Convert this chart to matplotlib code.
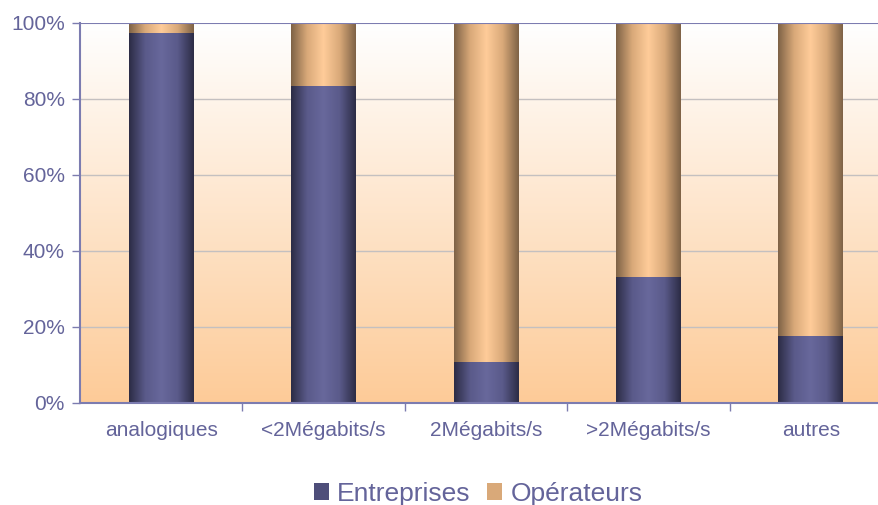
import numpy as np
import matplotlib
matplotlib.use("Agg")
import matplotlib.pyplot as plt
from matplotlib.colors import LinearSegmentedColormap
from matplotlib.patches import Rectangle

# data
categories = ['analogiques', '<2Mégabits/s', '2Mégabits/s', '>2Mégabits/s', 'autres']
entreprises = [97.4, 83.5, 10.8, 33.2, 17.6]
operateurs = [100 - v for v in entreprises]
yticks = [0, 20, 40, 60, 80, 100]

txt_color = '#64649A'
plt.rcParams['font.family'] = ['Liberation Sans', 'DejaVu Sans']

fig = plt.figure(figsize=(8.79, 5.05), dpi=100)
# axes extend past the right edge like the original
ax = fig.add_axes([80 / 879, 1 - 403 / 505, 812 / 879, 380 / 505])

n = len(categories)

# background gradient (white top -> peach bottom)
bg = LinearSegmentedColormap.from_list('bg', ['#FDCB98', '#FFFFFF'])
grad = np.linspace(0, 1, 256).reshape(-1, 1)
ax.imshow(grad, cmap=bg, extent=[-0.5, n - 0.5, 0, 100], aspect='auto',
          origin='lower', zorder=0)

# gridlines
for t in yticks[1:-1]:
    ax.axhline(t, color='#C4C0C0', lw=1, zorder=1)

blue_cm = LinearSegmentedColormap.from_list('b', ['#2C2C45', '#5A5A8A', '#68689C', '#5A5A8A', '#2C2C45'])
orange_cm = LinearSegmentedColormap.from_list('o', ['#7E6246', '#D9A979', '#FFCC99', '#D9A979', '#7E6246'])
hgrad = np.linspace(0, 1, 256).reshape(1, -1)

w = 0.4
for i in range(n):
    x0, x1 = i - w / 2, i + w / 2
    ax.imshow(hgrad, cmap=blue_cm, extent=[x0, x1, 0, entreprises[i]],
              aspect='auto', zorder=2)
    ax.imshow(hgrad, cmap=orange_cm, extent=[x0, x1, entreprises[i], entreprises[i] + operateurs[i]],
              aspect='auto', zorder=2)
ax.set_xlim(-0.5, n - 0.5)
ax.set_ylim(0, 100)

ax.axhline(100, color='#7C7CB0', lw=1.5, zorder=3)

for s in ['top', 'right']:
    ax.spines[s].set_visible(False)
for s in ['left', 'bottom']:
    ax.spines[s].set_color('#7C7CB0')
    ax.spines[s].set_linewidth(1.5)

ax.set_yticks(yticks)
ax.set_yticklabels([f'{t}%' for t in yticks], fontsize=15, color=txt_color)
ax.set_xticks(range(n))
ax.set_xticklabels(categories, fontsize=15, color=txt_color)
ax.set_xticks([i + 0.5 for i in range(n - 1)], minor=True)
ax.tick_params(axis='x', which='major', length=0, pad=13)
ax.tick_params(axis='x', which='minor', length=6, color='#7C7CB0', width=1)
ax.tick_params(axis='y', length=6, color='#7C7CB0', width=1, pad=5)

# legend
handles = [Rectangle((0, 0), 1, 1, facecolor='#4E4E7A'),
           Rectangle((0, 0), 1, 1, facecolor='#D9A979')]
fig.legend(handles, ['Entreprises', 'Opérateurs'], loc='center',
           bbox_to_anchor=(478 / 879, 1 - 494 / 505), ncol=2, frameon=False,
           fontsize=19, labelcolor=txt_color, handlelength=0.6, handleheight=0.6,
           handletextpad=0.3, columnspacing=0.6)

fig.savefig('out.png', dpi=100)
